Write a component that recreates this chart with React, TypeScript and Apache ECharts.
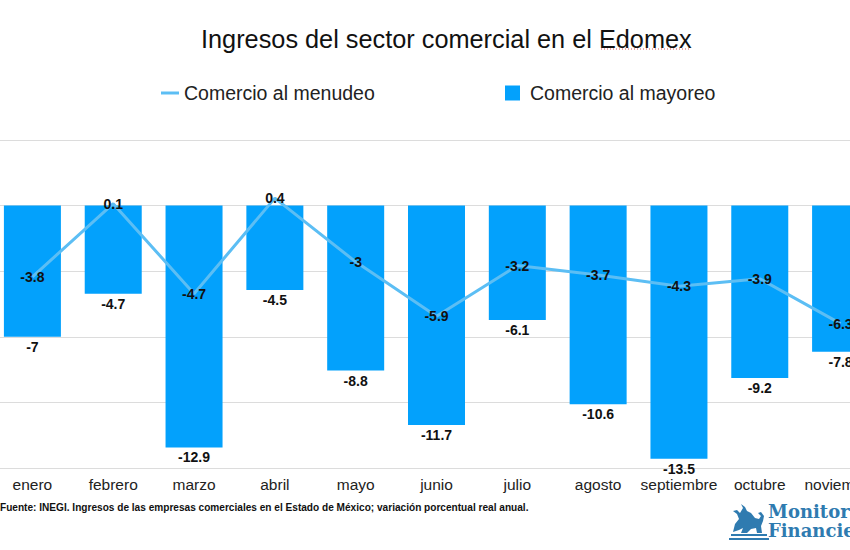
import React, { useEffect, useRef } from "react";
import * as echarts from "echarts";

const categories = ["enero", "febrero", "marzo", "abril", "mayo", "junio", "julio", "agosto", "septiembre", "octubre", "noviembre"];
const menudeo = [-3.8, 0.1, -4.7, 0.4, -3, -5.9, -3.2, -3.7, -4.3, -3.9, -6.3];
const mayoreo = [-7, -4.7, -12.9, -4.5, -8.8, -11.7, -6.1, -10.6, -13.5, -9.2, -7.8];
const yMin = -14;
const yMax = 3.5;
const yInterval = 3.5;

const BULL =
  "M2 30 L4 22 L8 17 L6 12 L2 9 L6 8 L9 11 L12 6 L10 2 L14 5 L16 9 L20 11 L24 16 L28 17 L30 14 L27 11 L30 10 L33 14 L32 19 L30 24 L31 31 L26 31 L25 26 L20 27 L16 31 L10 31 L12 26 L8 28 Z";

const SHIFT = 8; // inner chart is shifted left by this many px

export default function App() {
  const ref = useRef<HTMLDivElement>(null);
  useEffect(() => {
    if (!ref.current) return;
    try {
      echarts.graphic.registerShape("bull", echarts.graphic.extendPath(BULL, {}));
    } catch (e) {}
    const chart = echarts.init(ref.current, null, { renderer: "svg" });
    const font = "'Liberation Sans', Arial, Helvetica, sans-serif";
    const X = (x: number) => x + SHIFT;
    chart.setOption({
      animation: false,
      textStyle: { fontFamily: font },
      title: {
        text: "Ingresos del sector comercial en el Edomex",
        left: X(196),
        top: 21,
        textStyle: { fontSize: 25.3, fontWeight: "normal", color: "#111", fontFamily: font },
      },
      legend: [
        {
          data: ["Comercio al menudeo"],
          left: X(156),
          top: 78,
          icon: "rect",
          itemWidth: 18,
          itemHeight: 3,
          textStyle: { fontSize: 19.5, color: "#222", fontFamily: font, padding: [0, 0, 0, 0] },
        },
        {
          data: ["Comercio al mayoreo"],
          left: X(500),
          top: 78,
          icon: "rect",
          itemWidth: 15,
          itemHeight: 15,
          textStyle: { fontSize: 19.5, color: "#222", fontFamily: font, padding: [0, 0, 0, 5] },
        },
      ],
      grid: { left: 0, right: 0, top: 140, bottom: 82, containLabel: false },
      xAxis: {
        type: "category",
        data: categories,
        axisLine: { show: false },
        axisTick: { show: false },
        axisLabel: { fontSize: 15.5, color: "#222", margin: 8, interval: 0 },
      },
      yAxis: {
        type: "value",
        min: yMin,
        max: yMax,
        interval: yInterval,
        axisLabel: { show: false },
        axisLine: { show: false },
        axisTick: { show: false },
        splitLine: { lineStyle: { color: "#dcdcdc", width: 1 } },
      },
      series: [
        {
          name: "Comercio al mayoreo",
          type: "bar",
          data: mayoreo,
          barWidth: 57,
          itemStyle: { color: "#03A1FC" },
          label: {
            show: true,
            position: "bottom",
            distance: 3,
            fontSize: 14,
            fontWeight: "bold",
            color: "#111",
          },
          z: 2,
        },
        {
          name: "Comercio al menudeo",
          type: "line",
          data: menudeo,
          symbol: "circle",
          symbolSize: 0.1,
          lineStyle: { color: "#5CBEF4", width: 3 },
          itemStyle: { color: "#5CBEF4" },
          label: {
            show: true,
            position: "inside",
            fontSize: 14,
            fontWeight: "bold",
            color: "#111",
          },
          z: 3,
        },
      ],
      graphic: [
        {
          type: "line",
          shape: { x1: X(601), y1: 49, x2: X(690), y2: 49 },
          style: { stroke: "#d9534f", lineWidth: 1, lineDash: [1, 2] },
        },
        {
          type: "text",
          left: X(0),
          top: 502,
          style: {
            text: "Fuente: INEGI. Ingresos de las empresas comerciales en el Estado de México; variación porcentual real anual.",
            font: "bold 10.1px 'Liberation Sans', Arial, sans-serif",
            fill: "#111",
          },
        },
        {
          type: "bull",
          x: X(731),
          y: 502,
          scaleX: 1,
          scaleY: 1,
          style: { fill: "#2F7BB0" },
        },
        {
          type: "rect",
          shape: { x: X(731), y: 534, width: 36, height: 2 },
          style: { fill: "#2F7BB0" },
        },
        {
          type: "rect",
          shape: { x: X(729), y: 538, width: 40, height: 2 },
          style: { fill: "#2F7BB0" },
        },
        {
          type: "text",
          left: X(768),
          top: 502,
          style: {
            text: "Monitor",
            font: "bold 18px 'DejaVu Serif', 'Liberation Serif', serif",
            lineHeight: 18,
            fill: "#2F7BB0",
          },
        },
        {
          type: "text",
          left: X(768),
          top: 521,
          style: {
            text: "Financiero",
            font: "bold 18px 'DejaVu Serif', 'Liberation Serif', serif",
            lineHeight: 18,
            fill: "#2F7BB0",
          },
        },
      ],
    });
    return () => chart.dispose();
  }, []);
  return (
    <div
      style={{ position: "fixed", left: 0, top: 0, width: 850, height: 550, overflow: "hidden", background: "#fff" }}
    >
      <div
        ref={ref}
        style={{ position: "absolute", left: -SHIFT, top: 0, width: 889, height: 550 }}
      />
    </div>
  );
}
